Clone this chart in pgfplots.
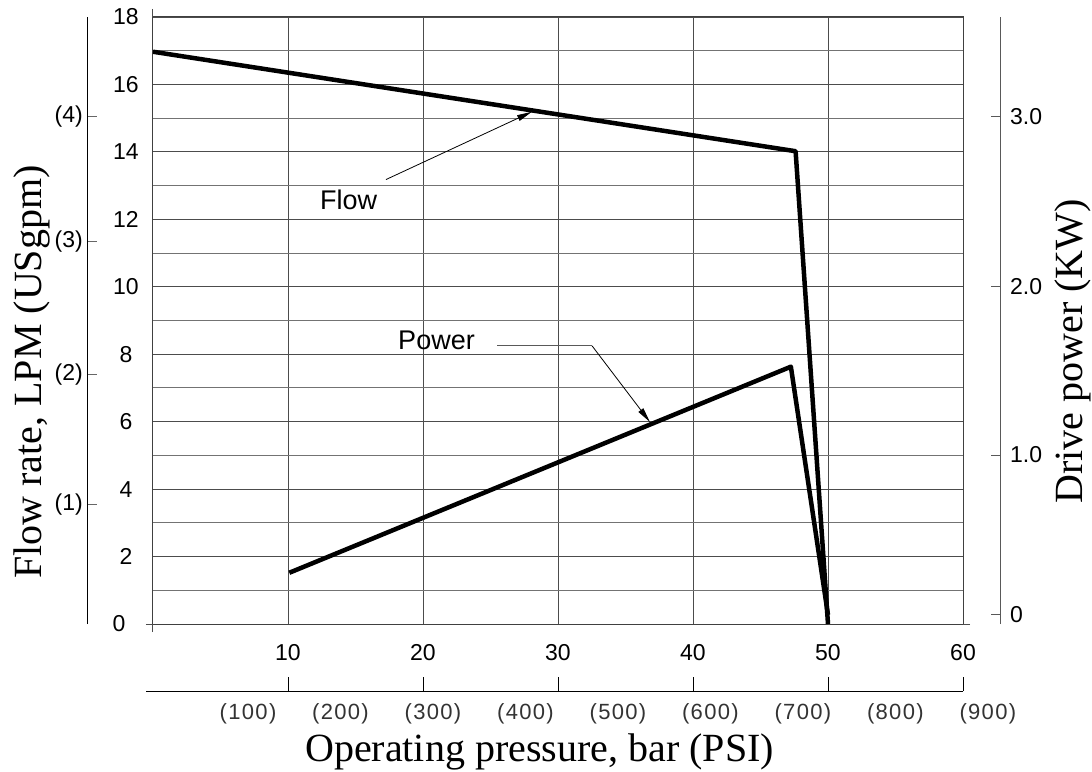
\documentclass[border=0pt]{standalone}
\usepackage{pgfplots}
\pgfplotsset{compat=1.18}
\usepackage{fontspec}
\setmainfont{Liberation Sans}
\newfontfamily\serif{Liberation Serif}
\newfontfamily\psifont[LetterSpace=6.0]{Liberation Sans}
\usetikzlibrary{arrows.meta}
\newcommand{\tickfont}{\fontsize{23}{27}\selectfont}
\newcommand{\psisize}{\psifont\fontsize{22}{26}\selectfont}
\newcommand{\titlefont}{\serif\fontsize{40}{48}\selectfont}

\begin{document}
\begin{tikzpicture}
% ---------- left outer axis: USgpm ----------
\begin{axis}[
  at={(-65pt,0pt)}, anchor=south west,
  scale only axis, width=20pt, height=607pt,
  xmin=0, xmax=1, ymin=0, ymax=18,
  axis x line=none, axis y line*=left,
  axis line style={-, black, line width=1pt},
  ytick={3.53,7.4,11.35,15.04},
  yticklabels={(1),(2),(3),(4)},
  tick align=inside, major tick length=9pt,
  tick style={black!60, line width=1pt},
  yticklabel style={font=\tickfont, inner sep=0pt, anchor=east, xshift=-5pt},
  /pgf/number format/assume math mode=true,
]
\end{axis}
% ---------- right outer axis: drive power ----------
\begin{axis}[
  at={(827pt,0pt)}, anchor=south west,
  scale only axis, width=20pt, height=607pt,
  xmin=0, xmax=1, ymin=0, ymax=18,
  axis x line=none, axis y line*=right,
  axis line style={-, black!65, line width=1pt},
  ytick={0.27,5.01,10.02,15.04},
  yticklabels={0,1.0,2.0,3.0},
  tick align=inside, major tick length=9pt,
  tick style={black!65, line width=1pt},
  yticklabel style={font=\tickfont, inner sep=0pt, anchor=west, xshift=10pt},
  /pgf/number format/assume math mode=true,
]
\end{axis}
% ---------- bottom secondary axis: PSI ----------
\begin{axis}[
  at={(-7pt,-67pt)}, anchor=south west,
  scale only axis, width=817pt, height=10pt,
  xmin=-0.5185, xmax=60, ymin=0, ymax=1,
  axis y line=none, axis x line*=bottom,
  axis line style={-, black, line width=1pt},
  xtick={10,20,30,40,50,60},
  xticklabels={,,,,,},
  tick align=inside, major tick length=14pt,
  tick style={black, line width=1pt},
  extra x ticks={7.04,13.89,20.74,27.59,34.44,41.29,48.14,54.99},
  extra x tick labels={(100),(200),(300),(400),(500),(600),(700),(800)},
  extra x tick style={major tick length=0pt,
    xticklabel style={font=\psisize, text=black!80, inner sep=0pt, anchor=north, yshift=-12pt}},
  clip=false,
  /pgf/number format/assume math mode=true,
]
\node[font=\psisize, text=black!80, inner sep=0pt, anchor=north, yshift=-12pt] at (axis cs:61.84,0) {(900)};
\end{axis}
% ---------- main axis ----------
\begin{axis}[
  name=main, at={(0pt,0pt)}, anchor=south west,
  scale only axis, width=810pt, height=607pt,
  xmin=0, xmax=60, ymin=0, ymax=18,
  xtick={10,20,30,40,50,60},
  xticklabels={10,20,30,40,50,60},
  ytick={2,4,6,8,10,12,14,16,18},
  yticklabels={2,4,6,8,10,12,14,16,18},
  minor ytick={1,3,5,7,9,11,13,15,17},
  xmajorgrids, ymajorgrids, yminorgrids,
  major grid style={black!70, line width=0.9pt},
  minor grid style={black!55, line width=0.9pt},
  major tick length=0pt, minor tick length=0pt,
  axis line style={black!75, line width=1pt},
  tick style={black!70, line width=1pt},
  xticklabel style={font=\tickfont, inner sep=0pt, anchor=north, yshift=-20pt},
  yticklabel style={font=\tickfont, inner sep=0pt, anchor=center, xshift=-27pt},
  extra y ticks={0}, extra y tick labels={0},
  extra y tick style={grid=none, tick align=outside, major tick length=7pt},
  extra x ticks={0}, extra x tick labels={},
  extra x tick style={grid=none, tick align=outside, major tick length=8pt},
  clip mode=individual,
  /pgf/number format/assume math mode=true,
]
% Flow (LPM)
\addplot[black, line width=4.5pt, line join=round] coordinates {
  (0,16.97) (47.6,14.02) (50.0,0)
};
% Power (plotted on the LPM-equivalent scale; 0 kW = 0.27, 1 kW ~ 4.92)
\addplot[black, line width=4.5pt, line join=round] coordinates {
  (10.1,1.52) (47.25,7.63) (50.0,0.27)
};
% annotations
\node[anchor=base west, font=\fontsize{27}{32}\selectfont, inner sep=0pt] at (axis cs:12.37,12.30) {Flow};
\draw[black, line width=0.8pt, -{Triangle[length=15pt,width=6pt]}] (axis cs:17.26,13.18) -- (axis cs:28.07,15.19);
\node[anchor=base east, font=\fontsize{27}{32}\selectfont, inner sep=0pt] at (axis cs:23.85,8.13) {Power};
\draw[black!65, line width=0.8pt] (axis cs:25.5,8.25) -- (axis cs:32.52,8.25);
\draw[black, line width=0.8pt, -{Triangle[length=15pt,width=6pt]}] (axis cs:32.52,8.25) -- (axis cs:36.81,5.99);
\end{axis}
% ---------- axis titles ----------
\node[anchor=base, font=\titlefont, inner sep=0pt] at (386.5pt,-137pt) {Operating pressure, bar (PSI)};
\node[anchor=base, rotate=90, font=\titlefont, inner sep=0pt] at (-111pt,252pt) {Flow rate, LPM (USgpm)};
\node[anchor=base, rotate=90, font=\titlefont, inner sep=0pt] at (929pt,272.5pt) {Drive power (KW)};
% ---------- page size ----------
\pgfresetboundingbox
\path[use as bounding box] (-153pt,-147pt) rectangle (939pt,624pt);
\end{tikzpicture}
\end{document}
